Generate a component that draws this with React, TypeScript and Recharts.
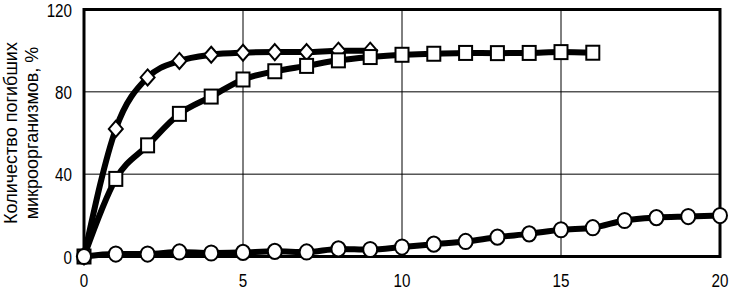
import React from 'react';
import { LineChart, Line, XAxis, YAxis, CartesianGrid, ReferenceArea } from 'recharts';

const xValues = [0, 1, 2, 3, 4, 5, 6, 7, 8, 9, 10, 11, 12, 13, 14, 15, 16, 17, 18, 19, 20];
const diamondValues = [0, 62, 87, 95, 98, 99, 99.3, 99.3, 100, 100];
const squareValues = [0, 37.7, 54, 69.3, 77.7, 86, 90, 92.6, 95.3, 96.9, 98, 98.5, 98.9, 98.8, 98.9, 99.3, 99];
const circleValues = [0, 1.2, 1.2, 2.2, 1.7, 2, 2.5, 2.2, 3.7, 3.4, 4.6, 6, 7.3, 9.4, 11, 13, 14, 17.5, 18.9, 19.4, 19.9];
const xTicks = [0, 5, 10, 15, 20];
const yTicks = [0, 40, 80, 120];
const yLabelLines = ['Количество погибших', 'микроорганизмов, %'];

const toSeries = (vals: number[]) => vals.map((v, i) => ({ x: xValues[i], y: v }));
const diamondData = toSeries(diamondValues);
const squareData = toSeries(squareValues);
const circleData = toSeries(circleValues);

const FONT = '"Liberation Sans", Arial, sans-serif';

const XTick = (props: any) => {
  const { x, y, payload } = props;
  return (
    <text
      transform={`translate(${x},${y + 30}) scale(0.8,1)`}
      textAnchor="middle"
      fontSize={19}
      fontFamily={FONT}
      fill="#000"
    >
      {payload.value}
    </text>
  );
};

const YTick = (props: any) => {
  const { x, y, payload, index } = props;
  const off = index === yTicks.length - 1 ? 7 : 7;
  return (
    <text
      transform={`translate(${x},${y + off}) scale(0.8,1)`}
      textAnchor="end"
      fontSize={19}
      fontFamily={FONT}
      fill="#000"
    >
      {payload.value}
    </text>
  );
};

const YLabel = (props: any) => {
  const vb = props.viewBox || { x: 0, y: 0, width: 84, height: 247 };
  const cy = vb.y + vb.height / 2;
  const baselines = [16.5, 38];
  return (
    <g>
      {yLabelLines.map((t, i) => (
        <text
          key={i}
          transform={`translate(${vb.x + baselines[i]},${cy}) rotate(-90)`}
          textAnchor="middle"
          fontSize={18}
          fontFamily={FONT}
          fill="#000"
        >
          {t}
        </text>
      ))}
    </g>
  );
};

const Diamond = ({ cx, cy }: any) => {
  if (cx == null || cy == null) return null;
  return (
    <path
      d={`M${cx},${cy - 8}L${cx + 7},${cy}L${cx},${cy + 8}L${cx - 7},${cy}Z`}
      fill="#fff"
      stroke="#000"
      strokeWidth={2}
    />
  );
};

const Square = ({ cx, cy }: any) => {
  if (cx == null || cy == null) return null;
  return <rect x={cx - 6.5} y={cy - 7} width={13} height={14} fill="#fff" stroke="#000" strokeWidth={2} />;
};

const CircleDot = ({ cx, cy }: any) => {
  if (cx == null || cy == null) return null;
  return <ellipse cx={cx} cy={cy} rx={7} ry={7.6} fill="#fff" stroke="#000" strokeWidth={2} />;
};

export default function App() {
  return (
    <div style={{ position: 'absolute', left: 0, top: 0, width: 730, height: 290, background: '#fff' }}>
      <LineChart width={730} height={290} margin={{ top: 9.5, right: 10, bottom: 0, left: 0 }}>
        <CartesianGrid stroke="#000" strokeWidth={1} />
        <XAxis
          type="number"
          dataKey="x"
          domain={[0, 20]}
          ticks={xTicks}
          interval={0}
          tickLine={false}
          axisLine={false}
          tickSize={0}
          tickMargin={0}
          height={33.5}
          tick={<XTick />}
          allowDuplicatedCategory={false}
        />
        <YAxis
          type="number"
          dataKey="y"
          domain={[0, 120]}
          ticks={yTicks}
          interval={0}
          tickLine={false}
          axisLine={false}
          tickSize={0}
          tickMargin={12}
          width={84}
          tick={<YTick />}
          label={{ content: <YLabel /> } as any}
        />
        <ReferenceArea x1={0} x2={20} y1={0} y2={120} fill="none" fillOpacity={0} stroke="#000" strokeWidth={3} ifOverflow="visible" />
        <Line
          data={diamondData}
          dataKey="y"
          type="monotone"
          stroke="#000"
          strokeWidth={6}
          strokeLinejoin="round"
          dot={(p: any) => { const { key, ...rest } = p; return <Diamond key={`d${p.index}`} {...rest} />; }}
          activeDot={false}
          isAnimationActive={false}
        />
        <Line
          data={squareData}
          dataKey="y"
          type="monotone"
          stroke="#000"
          strokeWidth={6}
          strokeLinejoin="round"
          dot={(p: any) => { const { key, ...rest } = p; return <Square key={`s${p.index}`} {...rest} />; }}
          activeDot={false}
          isAnimationActive={false}
        />
        <Line
          data={circleData}
          dataKey="y"
          type="monotone"
          stroke="#000"
          strokeWidth={6}
          strokeLinejoin="round"
          dot={(p: any) => { const { key, ...rest } = p; return <CircleDot key={`c${p.index}`} {...rest} />; }}
          activeDot={false}
          isAnimationActive={false}
        />
      </LineChart>
    </div>
  );
}
